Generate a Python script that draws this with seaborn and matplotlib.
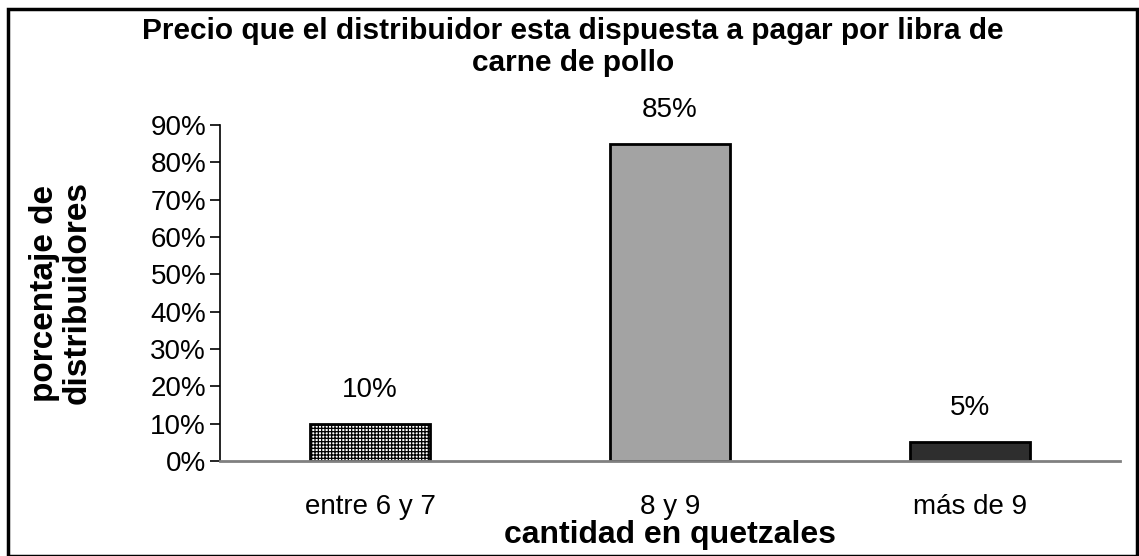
import matplotlib.pyplot as plt
import seaborn as sns
import pandas as pd
from matplotlib.patches import Rectangle
from matplotlib.ticker import PercentFormatter

categorias = ['entre 6 y 7', '8 y 9', 'más de 9']
porcentajes = [0.10, 0.85, 0.05]
etiquetas = ['10%', '85%', '5%']
colores = ['#ffffff', '#a3a3a3', '#2e2e2e']
tramas = ['+++++', '', '']

df = pd.DataFrame({'cantidad': categorias, 'porcentaje': porcentajes})

sns.set_style('white')
plt.rcParams['font.family'] = ['Liberation Sans', 'DejaVu Sans']
plt.rcParams['hatch.linewidth'] = 0.9
plt.rcParams['text.color'] = 'black'
plt.rcParams['axes.labelcolor'] = 'black'
plt.rcParams['xtick.color'] = 'black'
plt.rcParams['ytick.color'] = 'black'

fig = plt.figure(figsize=(11.39, 5.56), dpi=100)
ax = fig.add_axes([220 / 1139, 1 - 461 / 556, 900 / 1139, 336 / 556])

sns.barplot(data=df, x='cantidad', y='porcentaje', ax=ax, width=0.4,
            color='white', edgecolor='black', linewidth=2)

for barra, c, t in zip(ax.patches, colores, tramas):
    barra.set_facecolor(c)
    barra.set_hatch(t)

for i, (v, txt) in enumerate(zip(porcentajes, etiquetas)):
    ax.annotate(txt, (i, v), xytext=(0, 34), textcoords='offset pixels',
                ha='center', va='center', fontsize=20)

ax.set_xlim(-0.5, 2.5)
ax.set_ylim(0, 0.9)
ax.set_yticks([i / 10 for i in range(10)])
ax.yaxis.set_major_formatter(PercentFormatter(1.0, decimals=0))
ax.set_xticks([-0.5, 0.5, 1.5, 2.5], minor=True)
ax.tick_params(axis='x', which='major', length=0, labelsize=20, pad=24)
ax.tick_params(axis='x', which='minor', length=7, width=1.2, direction='out')
ax.tick_params(axis='y', length=7, width=1.2, direction='out', left=True, labelsize=20, pad=3)

for s in ['top', 'right']:
    ax.spines[s].set_visible(False)
ax.spines['left'].set_color('black')
ax.spines['left'].set_linewidth(1.2)
ax.spines['bottom'].set_color('#808080')
ax.spines['bottom'].set_linewidth(2)

ax.set_xlabel('cantidad en quetzales', fontsize=23, fontweight='bold')
ax.set_ylabel('porcentaje de\ndistribuidores', fontsize=24, fontweight='bold', linespacing=1.05)
ax.yaxis.set_label_coords(-0.142, 0.5)
ax.xaxis.set_label_coords(0.5, -0.175)

fig.text(0.503, 1 - 47 / 556, 'Precio que el distribuidor esta dispuesta a pagar por libra de\ncarne de pollo',
         ha='center', va='center', fontsize=21.5, fontweight='bold', linespacing=1.15)

fig.patches.append(Rectangle((8 / 1139, 0), 1129 / 1139, 1 - 9 / 556, transform=fig.transFigure,
                             fill=False, edgecolor='black', linewidth=2.5))

fig.savefig('out.png', dpi=100)
